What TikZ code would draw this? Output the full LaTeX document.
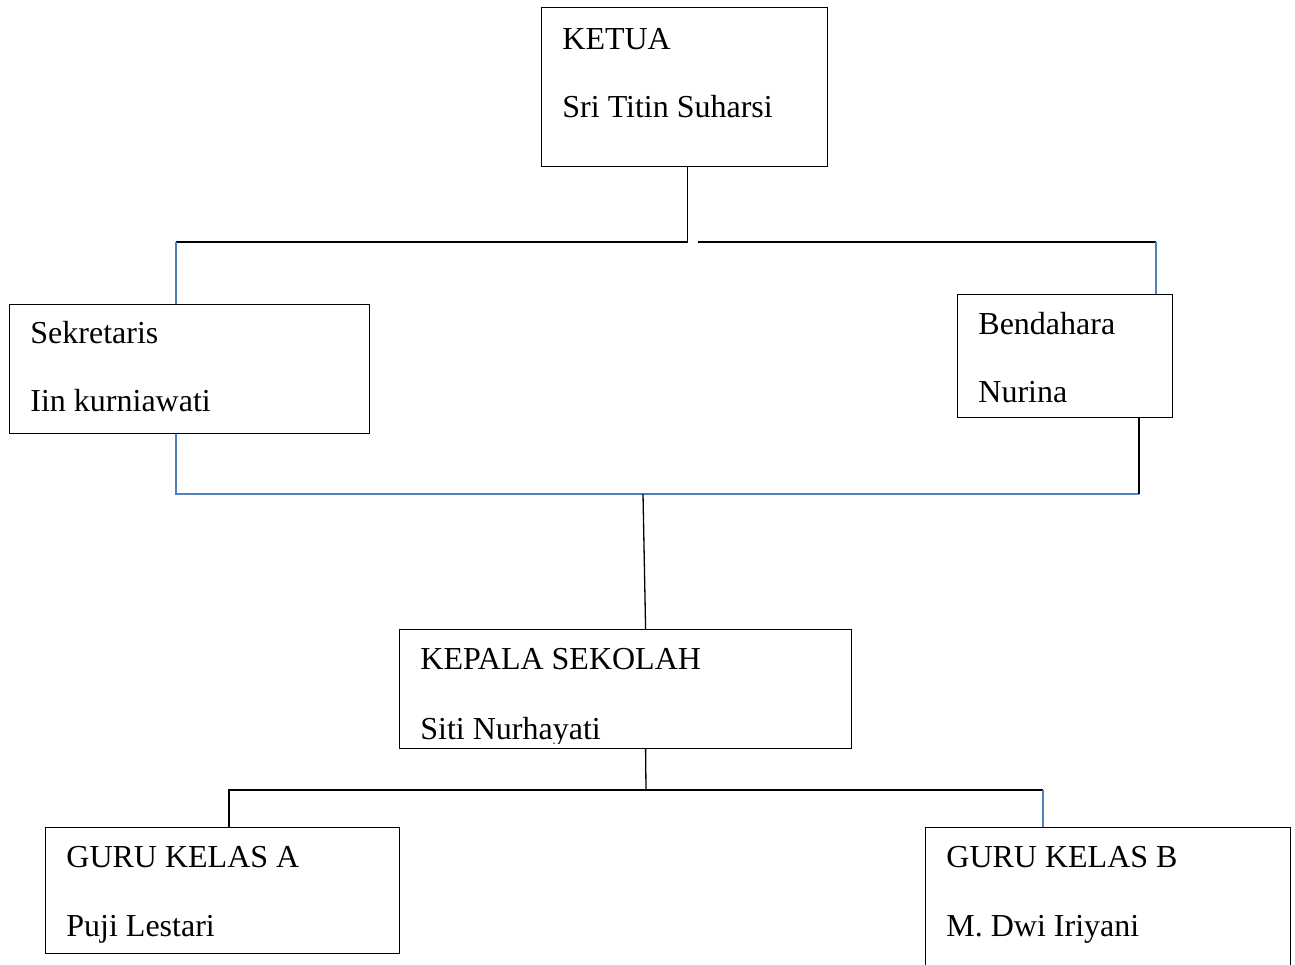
\documentclass[tikz,border=0pt]{standalone}
\usepackage{fontspec}
\setmainfont{Liberation Serif}
\definecolor{wordblue}{HTML}{4F81BD}
\tikzset{
  box/.style={draw, line width=0.6pt, rectangle, anchor=north west, inner sep=0pt},
  lbl/.style={anchor=base west, inner sep=0pt},
  conn/.style={line width=0.65pt},
  blueconn/.style={line width=0.65pt, wordblue}
}
\begin{document}
\begin{tikzpicture}[x=0.5pt, y=-0.5pt, font=\fontsize{16}{19}\selectfont]
\clip (0,0) rectangle (1295,964);
\fill[white] (0,0) rectangle (1295,964);
% boxes
\node[box, minimum width=143pt, minimum height=79.5pt] (ketua) at (541,7){};
\node[box, minimum width=180pt, minimum height=64.5pt] (sekr) at (9,304){};
\node[box, minimum width=107.5pt, minimum height=61.5pt] (bend) at (957,294){};
\node[box, minimum width=226pt, minimum height=59.5pt] (kepsek) at (399,629){};
\node[box, minimum width=177pt, minimum height=63pt] (gurua) at (45,827){};
\node[box, minimum width=182.5pt, minimum height=80pt] (gurub) at (925,827){};
% texts
\node[lbl] (ketua1) at (562,49){KETUA};
\node[lbl] (ketua2) at (562,117){Sri Titin Suharsi};
\node[lbl] (sekr1) at (30,343){Sekretaris};
\node[lbl] (sekr2) at (30,411){Iin kurniawati};
\node[lbl] (bend1) at (978,334){Bendahara};
\node[lbl] (bend2) at (978,402){Nurina};
\node[lbl] (kepsek1) at (420,669){KEPALA SEKOLAH};
\begin{scope}
\clip (399,629) rectangle (851,743);
\node[lbl] (kepsek2) at (420,739){Siti Nurhayati};
\end{scope}
\node[lbl] (gurua1) at (66,867){GURU KELAS A};
\node[lbl] (gurua2) at (66,936){Puji Lestari};
\node[lbl] (gurub1) at (946,867){GURU KELAS B};
\node[lbl] (gurub2) at (946,936){M. Dwi Iriyani};
% joints
\coordinate (j1) at (176,242);
\coordinate (j2) at (698,242);
\coordinate (j3) at (1156,242);
\coordinate (j4) at (176,494);
\coordinate (j5) at (1139,494);
\coordinate (j6) at (643,494);
\coordinate (j7) at (646,790);
\coordinate (j8) at (229,790);
\coordinate (j9) at (1043,790);
% connectors
\draw[conn] ([xshift=1.5pt]ketua.south) |- (j1);
\draw[blueconn] (j1) -- (j1 |- sekr.north);
\draw[conn] (j2) -- (j3);
\draw[blueconn] (j3) -- (j3 |- bend.north);
\draw[blueconn] (j4 |- sekr.south) -- (j4) -- (j5);
\draw[conn] (j5 |- bend.south) -- (j5);
\draw[conn] (j6) -- ([xshift=10pt]kepsek.north);
\draw[conn] ([xshift=10pt]kepsek.south) -- (j7);
\draw[conn] (j7) -- (j8) -- (j8 |- gurua.north);
\draw[conn] (j7) -- (j9);
\draw[blueconn] (j9) -- (j9 |- gurub.north);

\end{tikzpicture}
\end{document}
